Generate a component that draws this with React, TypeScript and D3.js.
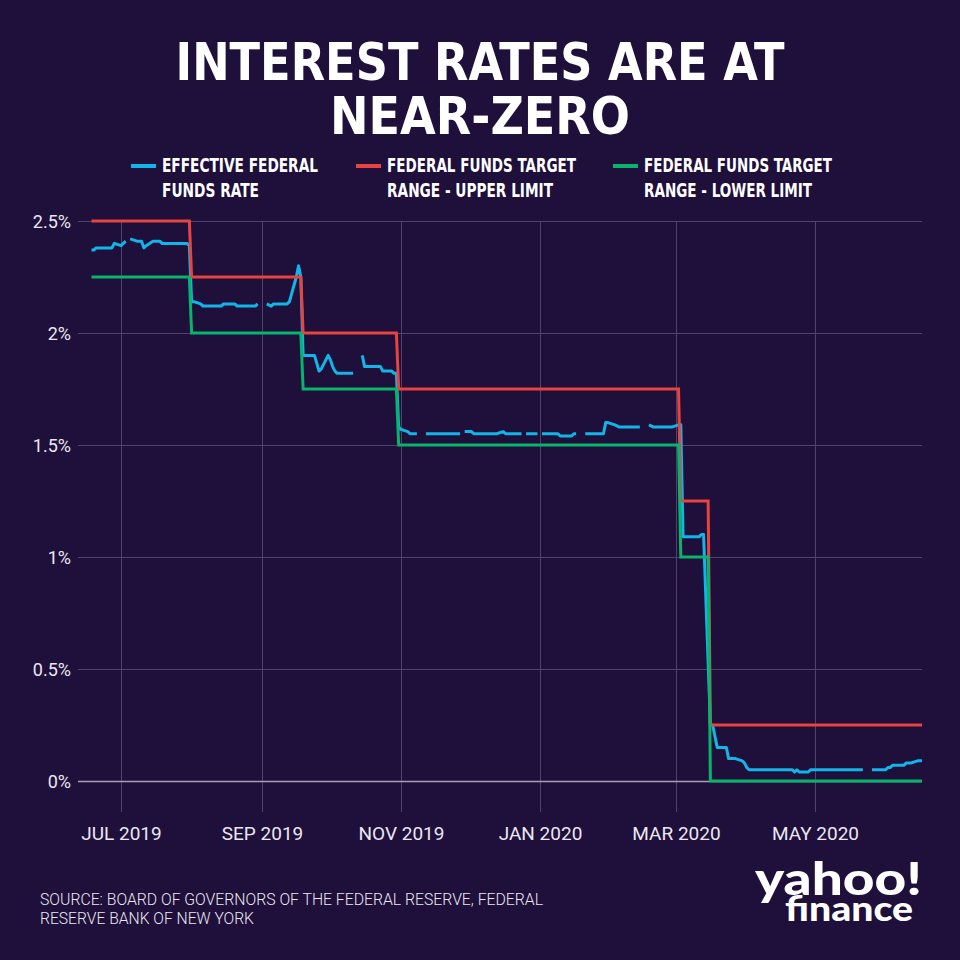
import React from "react";
import * as d3 from "d3";

// ---------- data ----------
const titleLines = ["INTEREST RATES ARE AT", "NEAR-ZERO"];
const legendLabels = [
  ["EFFECTIVE FEDERAL", "FUNDS RATE"],
  ["FEDERAL FUNDS TARGET", "RANGE - UPPER LIMIT"],
  ["FEDERAL FUNDS TARGET", "RANGE - LOWER LIMIT"],
];
const yTicks = [0, 0.5, 1, 1.5, 2, 2.5];
const yTickLabels = ["0%", "0.5%", "1%", "1.5%", "2%", "2.5%"];
const xTicks = ["2019-07-01", "2019-09-01", "2019-11-01", "2020-01-01", "2020-03-01", "2020-05-01"];
const xTickLabels = ["JUL 2019", "SEP 2019", "NOV 2019", "JAN 2020", "MAR 2020", "MAY 2020"];
const dateDomain = ["2019-06-18", "2020-06-17"];
const sourceLines = [
  "SOURCE: BOARD OF GOVERNORS OF THE FEDERAL RESERVE, FEDERAL",
  "RESERVE BANK OF NEW YORK",
];
const logoWords = ["yahoo!", "finance"];

// Effective federal funds rate (business days; null = holiday, no value)
const effectiveRate: [string, number | null][] = [
  ["2019-06-18", 2.37], ["2019-06-19", 2.37], ["2019-06-20", 2.38], ["2019-06-27", 2.38],
  ["2019-06-28", 2.40], ["2019-07-01", 2.39], ["2019-07-02", 2.40], ["2019-07-03", 2.41],
  ["2019-07-04", null],
  ["2019-07-05", 2.42], ["2019-07-08", 2.41], ["2019-07-10", 2.41], ["2019-07-11", 2.38],
  ["2019-07-12", 2.39], ["2019-07-15", 2.41], ["2019-07-18", 2.41], ["2019-07-19", 2.40],
  ["2019-07-30", 2.40], ["2019-07-31", 2.39], ["2019-08-01", 2.14], ["2019-08-02", 2.14],
  ["2019-08-05", 2.13], ["2019-08-06", 2.12], ["2019-08-14", 2.12], ["2019-08-15", 2.13],
  ["2019-08-20", 2.13], ["2019-08-21", 2.12], ["2019-08-29", 2.12], ["2019-08-30", 2.13],
  ["2019-09-02", null],
  ["2019-09-03", 2.13], ["2019-09-05", 2.12], ["2019-09-06", 2.13], ["2019-09-12", 2.13],
  ["2019-09-13", 2.14], ["2019-09-16", 2.25], ["2019-09-17", 2.30], ["2019-09-18", 2.25],
  ["2019-09-19", 1.90], ["2019-09-24", 1.90], ["2019-09-26", 1.83], ["2019-09-27", 1.84],
  ["2019-09-30", 1.90], ["2019-10-01", 1.88], ["2019-10-02", 1.85], ["2019-10-03", 1.83],
  ["2019-10-04", 1.82], ["2019-10-11", 1.82],
  ["2019-10-14", null],
  ["2019-10-15", 1.90], ["2019-10-16", 1.85], ["2019-10-23", 1.85], ["2019-10-24", 1.83],
  ["2019-10-28", 1.83], ["2019-10-29", 1.82], ["2019-10-30", 1.82], ["2019-10-31", 1.58],
  ["2019-11-01", 1.57], ["2019-11-04", 1.56], ["2019-11-05", 1.55], ["2019-11-08", 1.55],
  ["2019-11-11", null],
  ["2019-11-12", 1.55], ["2019-11-27", 1.55],
  ["2019-11-28", null],
  ["2019-11-29", 1.56], ["2019-12-02", 1.56], ["2019-12-03", 1.55], ["2019-12-13", 1.55],
  ["2019-12-16", 1.56], ["2019-12-17", 1.55], ["2019-12-24", 1.55],
  ["2019-12-25", null],
  ["2019-12-26", 1.55], ["2019-12-31", 1.55],
  ["2020-01-01", null],
  ["2020-01-02", 1.55], ["2020-01-09", 1.55], ["2020-01-10", 1.54], ["2020-01-15", 1.54],
  ["2020-01-16", 1.55], ["2020-01-17", 1.55],
  ["2020-01-20", null],
  ["2020-01-21", 1.55], ["2020-01-29", 1.55], ["2020-01-30", 1.60], ["2020-01-31", 1.60],
  ["2020-02-03", 1.59], ["2020-02-05", 1.58], ["2020-02-14", 1.58],
  ["2020-02-17", null],
  ["2020-02-18", 1.59], ["2020-02-20", 1.58], ["2020-02-28", 1.58], ["2020-03-02", 1.59],
  ["2020-03-03", 1.59], ["2020-03-04", 1.09], ["2020-03-11", 1.09], ["2020-03-12", 1.10],
  ["2020-03-13", 1.10], ["2020-03-16", 0.25], ["2020-03-17", 0.25], ["2020-03-18", 0.20],
  ["2020-03-19", 0.15], ["2020-03-23", 0.15], ["2020-03-24", 0.10], ["2020-03-27", 0.10],
  ["2020-03-30", 0.09], ["2020-03-31", 0.08], ["2020-04-01", 0.06], ["2020-04-02", 0.05],
  ["2020-04-21", 0.05], ["2020-04-22", 0.04], ["2020-04-23", 0.05], ["2020-04-24", 0.04],
  ["2020-04-28", 0.04], ["2020-04-29", 0.05], ["2020-05-22", 0.05],
  ["2020-05-25", null],
  ["2020-05-26", 0.05], ["2020-06-01", 0.05], ["2020-06-02", 0.06], ["2020-06-03", 0.06],
  ["2020-06-04", 0.07], ["2020-06-09", 0.07], ["2020-06-10", 0.08], ["2020-06-12", 0.08],
  ["2020-06-15", 0.09], ["2020-06-17", 0.09],
];

// Target range limits (values at the days around each change)
const upperLimit: [string, number][] = [
  ["2019-06-18", 2.5], ["2019-07-31", 2.5], ["2019-08-01", 2.25], ["2019-09-18", 2.25],
  ["2019-09-19", 2.0], ["2019-10-30", 2.0], ["2019-10-31", 1.75], ["2020-03-02", 1.75],
  ["2020-03-03", 1.25], ["2020-03-15", 1.25], ["2020-03-16", 0.25], ["2020-06-17", 0.25],
];
const lowerLimit: [string, number][] = [
  ["2019-06-18", 2.25], ["2019-07-31", 2.25], ["2019-08-01", 2.0], ["2019-09-18", 2.0],
  ["2019-09-19", 1.75], ["2019-10-30", 1.75], ["2019-10-31", 1.5], ["2020-03-02", 1.5],
  ["2020-03-03", 1.0], ["2020-03-15", 1.0], ["2020-03-16", 0], ["2020-06-17", 0],
];

// ---------- styles ----------
const BG = "#1e0f3b";
const BLUE = "#12b5e8";
const RED = "#e8443f";
const GREEN = "#06b46b";
const GRID = "#4e4368";
const BASE = "#a7a2b3";
const LABEL = "#ebe8f1";
const COND = "'DejaVu Sans Condensed', 'Liberation Sans Narrow', 'DejaVu Sans', sans-serif";

const parse = d3.timeParse("%Y-%m-%d");

export default function App() {
  const x = d3
    .scaleTime()
    .domain(dateDomain.map((d) => parse(d) as Date))
    .range([91.5, 922]);
  const y = d3.scaleLinear().domain([0, 2.5]).range([781, 221]);

  const line = d3
    .line<[string, number | null]>()
    .defined((d) => d[1] !== null)
    .x((d) => x(parse(d[0]) as Date))
    .y((d) => y(d[1] as number))
    .curve(d3.curveLinear);

  const colors = [BLUE, RED, GREEN];
  const legendX = [131, 356, 613];
  const legendLen = [
    [156, 97],
    [189, 166],
    [188, 168],
  ];

  return (
    <svg
      width={960}
      height={960}
      style={{ position: "absolute", left: 0, top: 0, display: "block" }}
    >
      <rect x={0} y={0} width={960} height={960} fill={BG} />

      {/* title */}
      {titleLines.map((t, i) => (
        <text
          key={t}
          x={480}
          y={80 + i * 54}
          textAnchor="middle"
          fill="#ffffff"
          fontFamily={COND}
          fontWeight={700}
          fontSize={51}
          textLength={i === 0 ? 609 : 300}
          lengthAdjust="spacingAndGlyphs"
        >
          {t}
        </text>
      ))}

      {/* legend */}
      {legendLabels.map((lines, i) => (
        <g key={i}>
          <line
            x1={legendX[i]}
            x2={legendX[i] + 25}
            y1={166}
            y2={166}
            stroke={colors[i]}
            strokeWidth={4}
          />
          {lines.map((l, j) => (
            <text
              key={j}
              x={legendX[i] + 31}
              y={172 + j * 25}
              fill="#ffffff"
              fontFamily={COND}
              fontWeight={700}
              fontSize={20}
              textLength={legendLen[i][j]}
              lengthAdjust="spacingAndGlyphs"
            >
              {l}
            </text>
          ))}
        </g>
      ))}

      {/* vertical grid */}
      {xTicks.map((d, i) => {
        const xx = Math.round(x(parse(d) as Date)) + 0.5;
        return (
          <g key={d}>
            <line x1={xx} x2={xx} y1={221} y2={812} stroke={GRID} strokeWidth={1} />
            <text
              x={xx}
              y={840}
              textAnchor="middle"
              fill={LABEL}
              fontFamily="Roboto, sans-serif"
              fontWeight={400}
              fontSize={19}
            >
              {xTickLabels[i]}
            </text>
          </g>
        );
      })}

      {/* horizontal grid */}
      {yTicks.map((v, i) => {
        const yy = Math.round(y(v)) + 0.5;
        return (
          <g key={v}>
            <line
              x1={78}
              x2={922}
              y1={yy}
              y2={yy}
              stroke={v === 0 ? BASE : GRID}
              strokeWidth={v === 0 ? 1.5 : 1}
            />
            <text
              x={71}
              y={yy + 6.5}
              textAnchor="end"
              fill={LABEL}
              fontFamily="Roboto, sans-serif"
              fontWeight={400}
              fontSize={18}
            >
              {yTickLabels[i]}
            </text>
          </g>
        );
      })}

      {/* series */}
      <path d={line(effectiveRate) || ""} fill="none" stroke={BLUE} strokeWidth={3} strokeLinejoin="round" />
      <path d={line(upperLimit as any) || ""} fill="none" stroke={RED} strokeWidth={3} strokeLinejoin="miter" />
      <path d={line(lowerLimit as any) || ""} fill="none" stroke={GREEN} strokeWidth={3} strokeLinejoin="miter" />

      {/* source */}
      {sourceLines.map((s, i) => (
        <text
          key={i}
          x={40}
          y={905 + i * 19}
          fill={LABEL}
          fontFamily="Roboto, sans-serif"
          fontWeight={300}
          fontSize={16}
          textLength={i === 0 ? 503 : 214}
          lengthAdjust="spacingAndGlyphs"
        >
          {s}
        </text>
      ))}

      {/* logo: one text block, two stacked words */}
      <text
        fill="#ffffff"
        fontFamily="Lato, 'Open Sans', sans-serif"
        fontWeight={900}
      >
        <tspan x={755} y={895} fontSize={46} textLength={167} lengthAdjust="spacingAndGlyphs">
          {logoWords[0]}
        </tspan>
        <tspan x={785} y={921} fontSize={34} textLength={128} lengthAdjust="spacingAndGlyphs">
          {logoWords[1]}
        </tspan>
      </text>
    </svg>
  );
}
